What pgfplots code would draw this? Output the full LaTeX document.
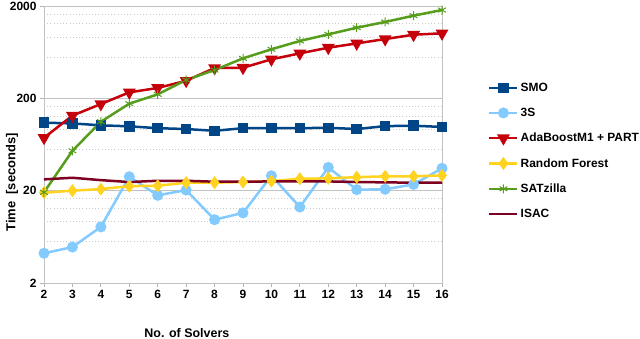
\documentclass[border=0pt]{standalone}
\usepackage{pgfplots}
\pgfplotsset{compat=1.18}
\usepackage{fontspec}
\setmainfont{Liberation Sans}

\definecolor{cSMO}{HTML}{004586}
\definecolor{cThreeS}{HTML}{83CAFF}
\definecolor{cAda}{HTML}{C5000B}
\definecolor{cRF}{HTML}{FFD320}
\definecolor{cSAT}{HTML}{579D1C}
\definecolor{cISAC}{HTML}{7E0021}
\definecolor{gridgray}{HTML}{B3B3B3}

\begin{document}
\begin{tikzpicture}
\begin{axis}[
    scale only axis,
    width=398bp, height=277bp,
    ymode=log,
    xmin=2, xmax=16, ymin=2, ymax=2000,
    xtick={2,...,16},
    ytick={2,20,200,2000},
    yticklabels={2,20,200,2000},
    minor y tick num=0,
    yminorgrids=false,
    ymajorgrids,
    extra y ticks={5.6,9.2,12.8,16.4,56,92,128,164,560,920,1280,1640},
    extra y tick labels={},
    extra y tick style={
        major tick length=0pt,
        ymajorgrids=true,
        major grid style={draw=gridgray!70, line width=0.8bp, dash pattern=on 1bp off 2.2bp},
    },
    major grid style={draw=gridgray!80, line width=0.8bp},
    axis line style={draw=gridgray!80, line width=0.8bp},
    tick align=outside, tick pos=left,
    major tick length=4bp, minor tick length=0pt,
    tick style={draw=gridgray, line width=0.8bp},
    font=\bfseries\fontsize{12}{14}\selectfont,
    tick label style={font=\bfseries\fontsize{12}{14}\selectfont},
    /pgf/number format/assume math mode=true,
    xlabel={No. of Solvers},
    ylabel={Time\ \ [seconds]},
    xlabel style={at={(axis description cs:0.359,-0.1805)}, anchor=center,
        font=\bfseries\fontsize{12.5}{14}\selectfont},
    ylabel style={at={(axis description cs:-0.0804,0.363)}, anchor=center,
        font=\bfseries\fontsize{13}{15}\selectfont},
    legend style={at={(axis description cs:1.1156,0.730)}, anchor=north west,
        draw=none, fill=none, inner sep=0pt, row sep=11.2bp,
        font=\bfseries\fontsize{12}{14}\selectfont},
    legend cell align=left,
    legend image code/.code={\draw[mark repeat=2,mark phase=2,#1] plot coordinates {(0bp,0bp) (14bp,0bp) (28bp,0bp)};},
    every axis plot/.append style={line width=2.5bp},
]
\coordinate (ll) at (rel axis cs:0,0);
\coordinate (ur) at (rel axis cs:1,1);

% SMO
\addplot[color=cSMO, mark=square*, mark size=4bp, mark options={solid}] coordinates {
(2,109) (3,107) (4,102) (5,99.5) (6,95) (7,93) (8,89) (9,95) (10,95)
(11,95) (12,96) (13,93) (14,100) (15,101) (16,98)};
\addlegendentry{SMO}

% 3S
\addplot[color=cThreeS, mark=*, mark size=4.2bp] coordinates {
(2,4.2) (3,4.9) (4,8.1) (5,28.3) (6,17.8) (7,20.3) (8,9.7) (9,11.5) (10,29)
(11,13.3) (12,35.7) (13,20.5) (14,20.7) (15,23.4) (16,34.9)};
\addlegendentry{3S}

% AdaBoostM1 + PART
\addplot[color=cAda, mark=triangle*, mark size=5bp, mark options={rotate=180}] coordinates {
(2,74.8) (3,130) (4,173.5) (5,232) (6,259) (7,310) (8,426) (9,429) (10,529)
(11,614) (12,707) (13,787) (14,877) (15,977) (16,1012)};
\addlegendentry{AdaBoostM1 + PART}

% Random Forest
\addplot[color=cRF, mark=diamond*, mark size=4.5bp] coordinates {
(2,19) (3,20) (4,20.8) (5,22.4) (6,22.6) (7,24.4) (8,24.4) (9,24.8) (10,25.4)
(11,26.9) (12,27.2) (13,28) (14,28.6) (15,28.6) (16,29.3)};
\addlegendentry{Random Forest}

% SATzilla
\addplot[color=cSAT, mark=asterisk, mark size=4.5bp, mark options={line width=1bp}] coordinates {
(2,19.2) (3,54) (4,111.6) (5,175) (6,221) (7,316) (8,405) (9,542) (10,680)
(11,836) (12,986) (13,1164) (14,1343) (15,1571) (16,1810)};
\addlegendentry{SATzilla}

% ISAC
\addplot[color=cISAC, no marks] coordinates {
(2,26.5) (3,27.6) (4,26.0) (5,24.8) (6,25.6) (7,25.6) (8,25.0) (9,25.0) (10,25.2)
(11,25.2) (12,25.2) (13,24.8) (14,24.6) (15,24.4) (16,24.4)};
\addlegendentry{ISAC}
\end{axis}
\pgfresetboundingbox
\path[use as bounding box] ([shift={(-44bp,-56bp)}]ll) rectangle ([shift={(198bp,6bp)}]ur);
\end{tikzpicture}
\end{document}
